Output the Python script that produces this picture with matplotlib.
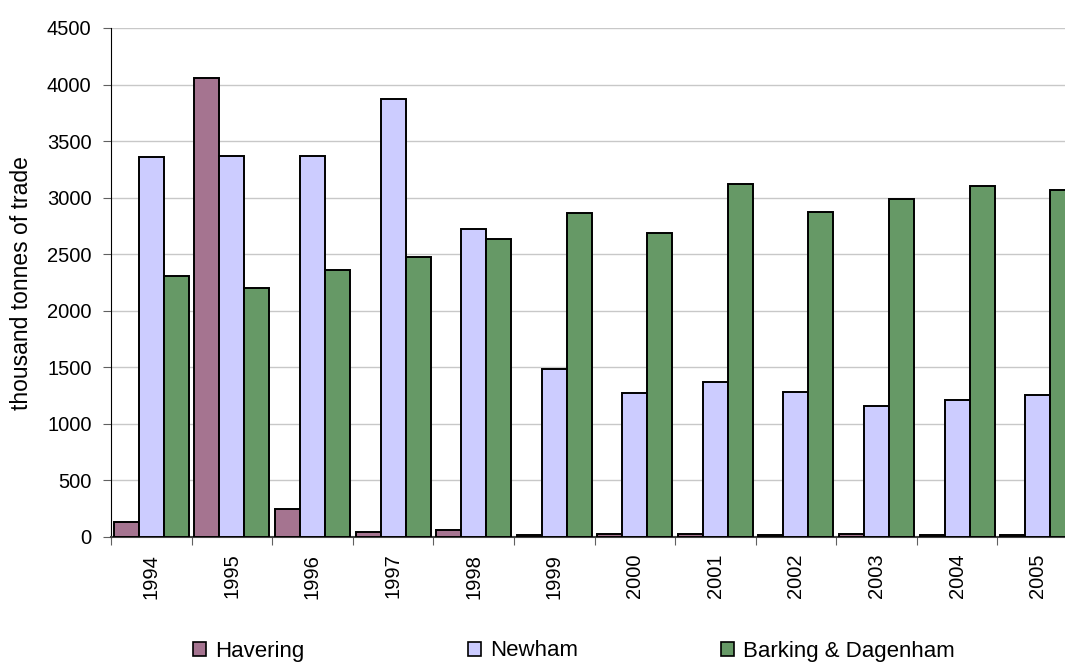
import matplotlib
matplotlib.use("Agg")
import matplotlib.pyplot as plt
import numpy as np
from matplotlib.patches import Patch

plt.rcParams['font.family'] = ['Liberation Sans', 'DejaVu Sans']

years = ['1994', '1995', '1996', '1997', '1998', '1999',
         '2000', '2001', '2002', '2003', '2004', '2005']
havering = [130, 4058, 250, 45, 60, 15, 30, 30, 15, 30, 15, 15]
newham = [3359, 3368, 3368, 3872, 2723, 1485, 1273, 1370, 1282, 1158, 1211, 1255]
barking = [2307, 2201, 2360, 2475, 2634, 2864, 2687, 3120, 2873, 2988, 3103, 3067]

series = [('Havering', havering, '#A57490'),
          ('Newham', newham, '#CCCCFF'),
          ('Barking & Dagenham', barking, '#669966')]

W, H = 1065, 662
fig = plt.figure(figsize=(W / 100, H / 100), dpi=100)
left, right, top, bottom = 111, 1078, 28, 537
ax = fig.add_axes([left / W, 1 - bottom / H, (right - left) / W, (bottom - top) / H])

x = np.arange(len(years))
bw = 0.31
for i, (name, vals, col) in enumerate(series):
    ax.bar(x + (i - 1) * bw, vals, width=bw, color=col, edgecolor='black',
           linewidth=1.4, zorder=3)

ax.set_xlim(-0.5, len(years) - 0.5)
ax.set_ylim(0, 4500)
ax.set_yticks(np.arange(0, 4501, 500))
ax.yaxis.grid(True, color='#C8C8C8', linewidth=1.0, zorder=0)
ax.set_axisbelow(True)

# Category ticks fall between groups; labels sit at the group centres
ax.set_xticks(np.arange(-0.5, len(years), 1.0))
ax.set_xticks(x, minor=True)
ax.set_xticklabels([''] * (len(years) + 1))
ax.set_xticklabels(years, minor=True)
ax.tick_params(axis='x', which='minor', length=0, pad=12,
               labelsize=14.5, labelrotation=90)
ax.tick_params(axis='x', which='major', length=6, color='#606060', direction='out')
ax.tick_params(axis='y', length=6, color='#606060', labelsize=14.5, pad=8)

for s in ['top', 'right']:
    ax.spines[s].set_visible(False)
ax.spines['left'].set_color('black')
ax.spines['bottom'].set_color('#404040')
ax.spines['bottom'].set_linewidth(1.5)

ax.set_ylabel('thousand tonnes of trade', fontsize=16.5)
ax.yaxis.label.set_va('center')
ax.yaxis.set_label_coords((22 - left) / (right - left), 1 - (283 - top) / (bottom - top))

legend_x = [193, 468, 721]
for (name, vals, col), lx in zip(series, legend_x):
    fig.legend(handles=[Patch(facecolor=col, edgecolor='black', linewidth=1.2)],
               labels=[name], loc='center left',
               bbox_to_anchor=(lx / W, 1 - 651 / H), frameon=False,
               fontsize=16, handlelength=0.6, handleheight=0.6,
               handletextpad=0.4, borderpad=0, borderaxespad=0)

fig.savefig('out.png', dpi=100)
